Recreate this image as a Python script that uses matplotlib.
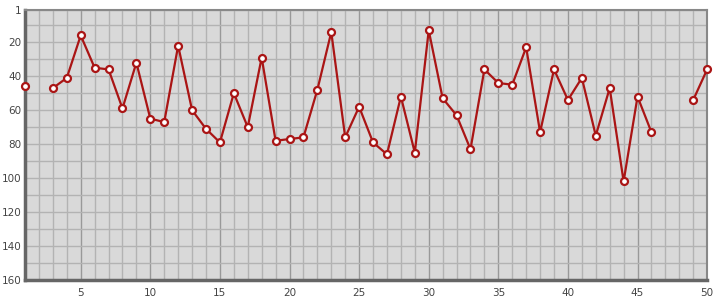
import numpy as np
import matplotlib
matplotlib.use('Agg')
import matplotlib.pyplot as plt
from matplotlib.ticker import MultipleLocator, FixedLocator

positions = list(range(1, 51))
ranks = [46, np.nan, 47, 41, 16, 35, 36, 59, 32, 65,
         67, 22, 60, 71, 79, 50, 70, 29, 78, 77,
         76, 48, 14, 76, 58, 79, 86, 52, 85, 13,
         53, 63, 83, 36, 44, 45, 23, 73, 36, 54,
         41, 75, 47, 102, 52, 73, np.nan, np.nan, 54, 36]
x_ticks = [5, 10, 15, 20, 25, 30, 35, 40, 45, 50]
y_ticks = [1, 20, 40, 60, 80, 100, 120, 140, 160]

fig = plt.figure(figsize=(7.15, 3.0), dpi=100)
ax = fig.add_axes([0.035, 0.0667, 0.954, 0.9])
ax.set_facecolor('#d9d9d9')

ax.set_xlim(1, 50)
ax.set_ylim(160, 1)

ax.xaxis.set_major_locator(FixedLocator(x_ticks))
ax.xaxis.set_minor_locator(MultipleLocator(1))
ax.yaxis.set_major_locator(FixedLocator(y_ticks))
ax.yaxis.set_minor_locator(FixedLocator(list(range(10, 160, 10))))

ax.grid(which='minor', color='#b3b3b3', linewidth=1)
ax.grid(which='major', axis='y', color='#b3b3b3', linewidth=1)
ax.grid(which='major', axis='x', color='#999999', linewidth=1)
ax.set_axisbelow(True)

ax.tick_params(which='both', length=0, colors='#444444', labelsize=7.5)
ax.tick_params(axis='x', pad=6)
ax.tick_params(axis='y', pad=2.5)

for side in ['left', 'bottom']:
    ax.spines[side].set_color('#666666')
    ax.spines[side].set_linewidth(2.5)
for side in ['top', 'right']:
    ax.spines[side].set_color('#888888')
    ax.spines[side].set_linewidth(1.5)

ax.plot(positions, ranks, color='#aa1515', linewidth=1.6,
        marker='o', markersize=5, markerfacecolor='white',
        markeredgecolor='#aa1515', markeredgewidth=1.6, clip_on=False, zorder=3)

fig.savefig('out.png', dpi=100)
